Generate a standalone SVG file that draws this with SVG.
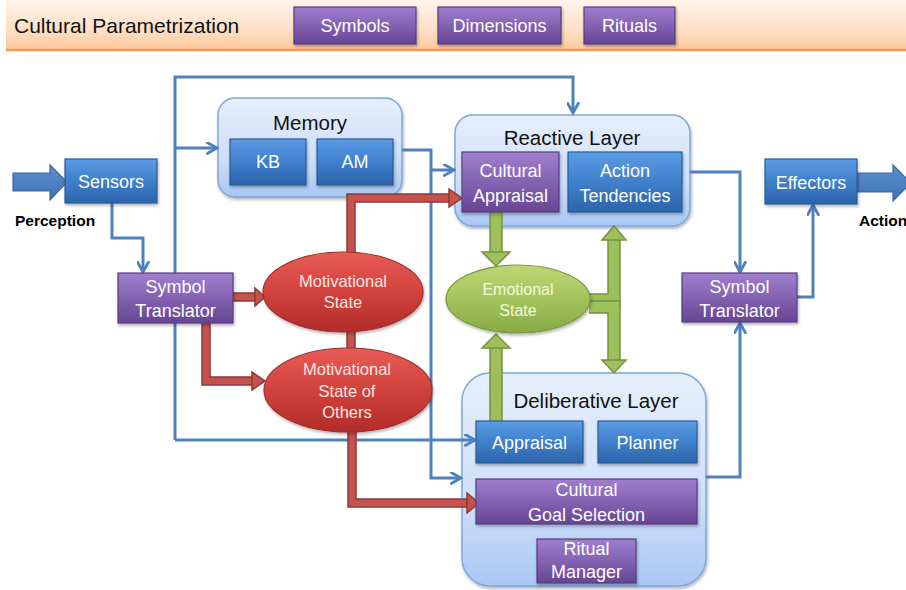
<svg xmlns="http://www.w3.org/2000/svg" width="906" height="590" viewBox="0 0 906 590">
<defs>
<linearGradient id="gHeader" x1="0" y1="0" x2="0" y2="1"><stop offset="0" stop-color="#fff5ee"/><stop offset="0.6" stop-color="#fde0c6"/><stop offset="1" stop-color="#fbc89a"/></linearGradient>
<linearGradient id="gBlue" x1="0" y1="0" x2="0" y2="1"><stop offset="0" stop-color="#5c9ce4"/><stop offset="0.5" stop-color="#3f80cc"/><stop offset="1" stop-color="#2c64ab"/></linearGradient>
<linearGradient id="gPurple" x1="0" y1="0" x2="0" y2="1"><stop offset="0" stop-color="#9f7fcd"/><stop offset="0.5" stop-color="#8462b2"/><stop offset="1" stop-color="#664593"/></linearGradient>
<linearGradient id="gCont" x1="0" y1="0" x2="0" y2="1"><stop offset="0" stop-color="#e6effc"/><stop offset="0.6" stop-color="#cfe0f9"/><stop offset="1" stop-color="#a9c7f4"/></linearGradient>
<linearGradient id="gRed" x1="0" y1="0" x2="0" y2="1"><stop offset="0" stop-color="#e65c55"/><stop offset="0.5" stop-color="#d2423c"/><stop offset="1" stop-color="#b02c28"/></linearGradient>
<linearGradient id="gGreen" x1="0" y1="0" x2="0" y2="1"><stop offset="0" stop-color="#bcd874"/><stop offset="0.5" stop-color="#a3c35d"/><stop offset="1" stop-color="#88a946"/></linearGradient>
<linearGradient id="gArrow" x1="0" y1="0" x2="0" y2="1"><stop offset="0" stop-color="#5b8fcf"/><stop offset="1" stop-color="#3f73b3"/></linearGradient>
<filter id="sh" x="-10%" y="-10%" width="130%" height="140%"><feDropShadow dx="1" dy="2" stdDeviation="1.5" flood-color="#000" flood-opacity="0.3"/></filter>
<marker id="ah" viewBox="0 0 12 12" refX="10.5" refY="6" markerWidth="13" markerHeight="13" markerUnits="userSpaceOnUse" orient="auto"><path d="M1.5,1 L10.5,6 L1.5,11" fill="none" stroke="#4f81bd" stroke-width="2.6" stroke-linecap="round" stroke-linejoin="miter"/></marker>
<style>
.t{font-family:"Liberation Sans",Arial,sans-serif;text-anchor:middle}
.w{fill:#ffffff;font-size:18px}
.e{fill:#fde6e2;font-size:16.5px}
.g{fill:#f3f8dc;font-size:16px}
.h{fill:#111111;font-size:20.5px}
.b{font-family:"Liberation Sans",Arial,sans-serif;font-weight:bold;font-size:15.5px;fill:#000}
.blue{fill:url(#gBlue);stroke:#2b5b96;stroke-width:1.2;filter:url(#sh)}
.purple{fill:url(#gPurple);stroke:#583d80;stroke-width:1.2;filter:url(#sh)}
.cont{fill:url(#gCont);stroke:#7fa6dd;stroke-width:1.5;filter:url(#sh)}
.red{fill:url(#gRed);stroke:#a02c28;stroke-width:1.2;filter:url(#sh)}
.green{fill:url(#gGreen);stroke:#7a9a3a;stroke-width:1.2;filter:url(#sh)}
.ln{fill:none;stroke:#4f81bd;stroke-width:3;stroke-linejoin:miter}
.ro{fill:none;stroke:#8c3a37;stroke-width:9.5}
.ri{fill:none;stroke:#c6524e;stroke-width:6.5}
.rh{fill:#c6524e;stroke:#8c3a37;stroke-width:1.5}
.go{fill:none;stroke:#76923c;stroke-width:13.5}
.gi{fill:none;stroke:#9fbf5c;stroke-width:10.5}
.gh{fill:#9fbf5c;stroke:#76923c;stroke-width:1.5}
.ba{fill:url(#gArrow);stroke:#3a68a3;stroke-width:1.2}
</style>
</defs>

<g id="header">
<rect x="6" y="-2" width="900" height="52" fill="url(#gHeader)"/>
<line x1="6" y1="50" x2="906" y2="50" stroke="#f29a55" stroke-width="2.5"/>
<text x="14" y="33" style="font-family:'Liberation Sans',Arial,sans-serif;font-size:21px;fill:#111">Cultural Parametrization</text>
</g>
<g id="symbols"><rect class="purple" x="294" y="7" width="122" height="37"/><text class="t w" x="355" y="32">Symbols</text></g>
<g id="dimensions"><rect class="purple" x="438" y="7" width="123" height="37"/><text class="t w" x="499.5" y="32">Dimensions</text></g>
<g id="rituals"><rect class="purple" x="584" y="7" width="91" height="37"/><text class="t w" x="629.5" y="32">Rituals</text></g>

<g id="memory"><rect class="cont" x="218" y="98" width="184" height="99" rx="17"/><text class="t h" x="310" y="130">Memory</text></g>
<g id="reactive-layer"><rect class="cont" x="455" y="115" width="235" height="111" rx="18"/><text class="t h" x="572" y="145">Reactive Layer</text></g>
<g id="deliberative-layer"><rect class="cont" x="462" y="373" width="244" height="213" rx="28"/><text class="t h" x="596" y="408">Deliberative Layer</text></g>

<g id="connectors">
<path class="ln" d="M112,203 V238 H143 V272" marker-end="url(#ah)"/>
<path class="ln" d="M175,440 V77 H573 V113" marker-end="url(#ah)"/>
<path class="ln" d="M175,148 H217" marker-end="url(#ah)"/>
<path class="ln" d="M175,440 H475" marker-end="url(#ah)"/>
<path class="ln" d="M402,150 H431 V170 H454" marker-end="url(#ah)"/>
<path class="ln" d="M431,170 V478 H461" marker-end="url(#ah)"/>
<path class="ln" d="M690,172 H740 V272" marker-end="url(#ah)"/>
<path class="ln" d="M706,477 H740 V323" marker-end="url(#ah)"/>
<path class="ln" d="M797,297 H813 V205" marker-end="url(#ah)"/>

<path class="ro" d="M233,297 H256"/><path class="ri" d="M232,297 H256"/>
<polygon class="rh" points="255,288 265,297 255,306"/>
<path class="ro" d="M206,323 V381 H253"/><path class="ri" d="M206,322 V381 H253"/>
<polygon class="rh" points="252,372 265,381 252,390"/>
<path class="ro" d="M351,348 V198 H450"/><path class="ri" d="M351,348 V198 H450"/>
<polygon class="rh" points="449,189 462,198 449,207"/>
<path class="ro" d="M352,431 V503 H468"/><path class="ri" d="M352,431 V503 H468"/>
<polygon class="rh" points="467,493 479,503 467,513"/>

<path class="go" d="M496,212 V253"/><path class="gi" d="M496,211 V253"/>
<polygon class="gh" points="482,252 510,252 496,266"/>
<path class="go" d="M496,421 V347"/><path class="gi" d="M496,422 V347"/>
<polygon class="gh" points="482,348 510,348 496,334"/>
<path class="go" d="M589,300 H614 V239"/><path class="gi" d="M589,300 H614 V239"/>
<polygon class="gh" points="602,240 626,240 614,226"/>
<path class="go" d="M589,307 H614 V361"/><path class="gi" d="M589,307 H614 V361"/>
<polygon class="gh" points="602,360 626,360 614,373"/>
</g>

<g id="perception">
<polygon class="ba" points="13,173 50,173 50,165 67,182 50,200 50,191 13,191"/>
<text class="b" x="15" y="226">Perception</text>
</g>
<g id="action">
<polygon class="ba" points="857,173 893,173 893,165 911,183 893,201 893,192 857,192"/>
<text class="b" x="859" y="226">Action</text>
</g>

<g id="sensors"><rect class="blue" x="65" y="159" width="92" height="44"/><text class="t w" x="111" y="188">Sensors</text></g>
<g id="effectors"><rect class="blue" x="765" y="159" width="92" height="45"/><text class="t w" x="811" y="189">Effectors</text></g>
<g id="symbol-translator-left"><rect class="purple" x="118" y="273" width="115" height="50"/><text class="t w" x="175.5" y="293">Symbol</text><text class="t w" x="175.5" y="317">Translator</text></g>
<g id="symbol-translator-right"><rect class="purple" x="682" y="273" width="115" height="49"/><text class="t w" x="739.5" y="293">Symbol</text><text class="t w" x="739.5" y="317">Translator</text></g>

<g id="kb"><rect class="blue" x="230" y="139" width="76" height="46"/><text class="t w" x="268" y="168">KB</text></g>
<g id="am"><rect class="blue" x="317" y="139" width="76" height="46"/><text class="t w" x="355" y="168">AM</text></g>

<g id="cultural-appraisal"><rect class="purple" x="462" y="152" width="97" height="60"/><text class="t w" x="510.5" y="177">Cultural</text><text class="t w" x="510.5" y="202">Appraisal</text></g>
<g id="action-tendencies"><rect class="blue" x="568" y="152" width="114" height="60"/><text class="t w" x="625" y="177">Action</text><text class="t w" x="625" y="202">Tendencies</text></g>

<g id="motivational-state"><ellipse class="red" cx="343" cy="292" rx="80" ry="40"/><text class="t e" x="343" y="287">Motivational</text><text class="t e" x="343" y="308">State</text></g>
<g id="motivational-state-of-others"><ellipse class="red" cx="348" cy="390" rx="84" ry="42"/><text class="t e" x="347" y="375">Motivational</text><text class="t e" x="347" y="397">State of</text><text class="t e" x="347" y="418">Others</text></g>
<g id="emotional-state"><ellipse class="green" cx="518" cy="299" rx="72" ry="34"/><text class="t g" x="518" y="295">Emotional</text><text class="t g" x="518" y="316">State</text></g>

<g id="appraisal"><rect class="blue" x="476" y="421" width="107" height="42"/><text class="t w" x="529.5" y="449">Appraisal</text></g>
<g id="planner"><rect class="blue" x="598" y="421" width="99" height="42"/><text class="t w" x="647.5" y="449">Planner</text></g>
<g id="cultural-goal-selection"><rect class="purple" x="476" y="479" width="221" height="45"/><text class="t w" x="586.5" y="496">Cultural</text><text class="t w" x="586.5" y="521">Goal Selection</text></g>
<g id="ritual-manager"><rect class="purple" x="537" y="539" width="99" height="44"/><text class="t w" x="586.5" y="555">Ritual</text><text class="t w" x="586.5" y="578">Manager</text></g>
</svg>
